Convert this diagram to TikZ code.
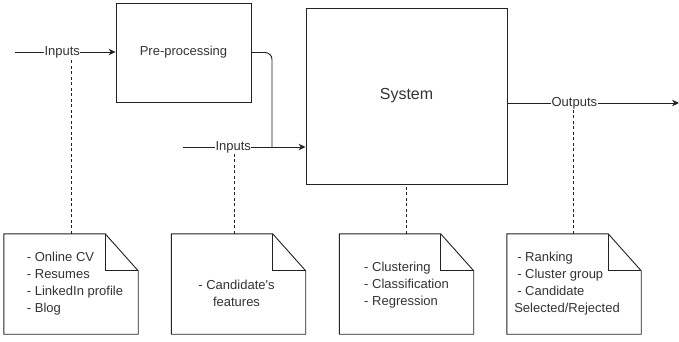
\documentclass[tikz,border=0pt]{standalone}
\usepackage{fontspec}
\setmainfont{Liberation Sans}[Ligatures=TeXOff]
\usetikzlibrary{arrows.meta,calc}
\definecolor{ink}{HTML}{222222}
\definecolor{txt}{HTML}{333333}
\tikzset{
  box/.style={draw=ink, line width=0.9pt, fill=white, inner sep=0pt, text=txt, font=\fontsize{13}{16}\selectfont},
  notebox/.style={inner sep=0pt, minimum width=134pt, minimum height=100pt},
  notetext/.style={text=txt, align=left, font=\fontsize{13}{17}\selectfont, inner sep=0pt},
  conn/.style={draw=ink, line width=0.9pt},
  arrow/.style={conn, -{Stealth[length=7pt,width=6.5pt]}},
  lbl/.style={fill=white, text=txt, inner sep=0.5pt, font=\fontsize{13}{16}\selectfont},
  dashlink/.style={draw=ink, line width=0.9pt, dash pattern=on 3pt off 2.5pt},
  notefold/.style={draw=ink, line width=0.9pt, fill=white}
}
\newcommand{\drawnote}[1]{%
  \path[notefold] (#1.north west) -- ([xshift=-33pt]#1.north east) -- ([yshift=-37pt]#1.north east) -- (#1.south east) -- (#1.south west) -- cycle;
  \draw[conn] ([xshift=-33pt]#1.north east) |- ([yshift=-37pt]#1.north east);
}
\begin{document}
\begin{tikzpicture}[x=1pt,y=-1pt]
\useasboundingbox (0,0) rectangle (679,341);
% main boxes
\node[box, minimum width=135pt, minimum height=99pt] (pre) at (183.5,52.5) {Pre-processing};
\node[box, minimum width=201pt, minimum height=176pt, font=\fontsize{16}{19}\selectfont] (sys) at (406.5,96) {System};
% notes
\node[notebox] (n1) at (71,284) {};
\node[notebox] (n2) at (238.5,284) {};
\node[notebox] (n3) at (406.5,284) {};
\node[notebox] (n4) at (574,284) {};
\drawnote{n1}\drawnote{n2}\drawnote{n3}\drawnote{n4}
\node[notetext, anchor=center] (t1) at ($(n1.center)+(4,0)$) {- Online CV\\- Resumes\\- LinkedIn profile\\- Blog};
\node[notetext, align=center, anchor=center] (t2) at ($(n2.center)+(-2,9)$) {- Candidate's\\features};
\node[notetext, anchor=center] (t3) at ($(n3.center)+(0,1)$) {- Clustering\\- Classification\\- Regression};
\node[notetext, anchor=center] (t4) at ($(n4.center)+(-7,0)$) {\hspace{3pt}- Ranking\\\hspace{3pt}- Cluster group\\\hspace{3pt}- Candidate\\Selected/Rejected};
% coordinates
\coordinate (i1) at (15,52);
\coordinate (i2) at (183,147);
\coordinate (j) at (272,147);
\coordinate (oe) at (679,103);
% dashed links
\draw[dashlink] (n1.north) -- (n1.north |- i1);
\draw[dashlink] ([xshift=-4.5pt]n2.north) -- ([xshift=-4.5pt]n2.north |- i2);
\draw[dashlink] (n3.north) -- (sys.south);
\draw[dashlink] ([xshift=-1pt]n4.north) -- ([xshift=-1pt]n4.north |- oe);
% connectors
\draw[arrow] (i1) -- node[lbl, pos=0.47] {Inputs} (pre.west |- i1);
\draw[conn, rounded corners=7pt] (pre.east) -| (j);
\draw[arrow] (i2) -- node[lbl, pos=0.41] {Inputs} (i2 -| sys.west);
\draw[arrow] (sys.east |- oe) -- node[lbl, pos=0.39] {Outputs} (oe);
\end{tikzpicture}
\end{document}
